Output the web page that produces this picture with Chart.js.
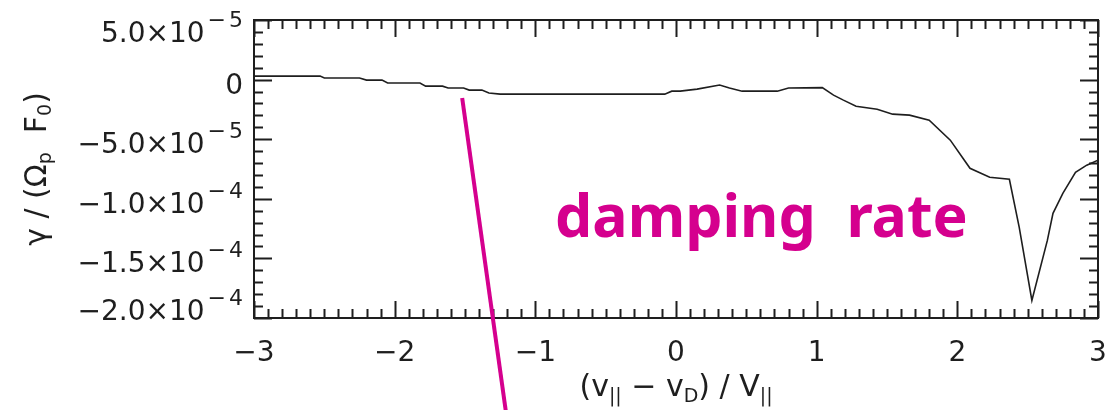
<!DOCTYPE html>
<html>
<head>
<meta charset="utf-8">
<script src="https://cdn.jsdelivr.net/npm/chart.js@4/dist/chart.umd.min.js"></script>
<style>
  html, body { margin: 0; padding: 0; background: #fff; }
  #wrap { width: 1116px; height: 410px; }
</style>
</head>
<body>
<div id="wrap"><canvas id="rate" width="1116" height="410"></canvas></div>
<script>
// normalised drift velocity samples
const velocity = [-3.00, -2.53, -2.50, -2.25, -2.20, -2.09, -2.05, -1.82, -1.78, -1.66,
    -1.62, -1.51, -1.47, -1.38, -1.33, -1.25, -0.08, -0.03, 0.03, 0.15,
    0.31, 0.38, 0.47, 0.72, 0.80, 1.04, 1.12, 1.19, 1.28, 1.43,
    1.54, 1.66, 1.80, 1.95, 2.04, 2.09, 2.23, 2.37, 2.44, 2.53,
    2.64, 2.68, 2.75, 2.84, 2.92, 3.00];

// damping rate, in units of 1e-5
const gammaE5 = [0.29, 0.29, 0.13, 0.13, -0.04, -0.04, -0.29, -0.29, -0.55, -0.55,
    -0.71, -0.71, -0.88, -0.88, -1.13, -1.22, -1.22, -0.97, -0.97, -0.80,
    -0.46, -0.71, -0.97, -0.97, -0.71, -0.67, -1.30, -1.72, -2.23, -2.48,
    -2.90, -2.98, -3.40, -5.08, -6.60, -7.44, -8.19, -8.36, -12.39, -18.53,
    -13.49, -11.22, -9.54, -7.77, -7.18, -6.76];

const xTicks = [-3, -2, -1, 0, 1, 2, 3];
const xTickLabels = ['\u22123', '\u22122', '\u22121', '0', '1', '2', '3'];
const yTicks = [5e-5, 0, -5e-5, -1e-4, -1.5e-4, -2e-4];
const yTickMantissa = ['5.0\u00d710', '0', '\u22125.0\u00d710', '\u22121.0\u00d710', '\u22121.5\u00d710', '\u22122.0\u00d710'];
const yTickExponent = ['\u22125', '', '\u22125', '\u22124', '\u22124', '\u22124'];

// pointer annotation (data coordinates)
const pointerFrom = { x: -1.52, y: -1.55e-5 };
const pointerTo = { x: -1.21, y: -2.78e-4 };
const noteAt = { x: -0.86, y: -1.32e-4 };

const FONT = '"DejaVu Sans", sans-serif';
const INK = '#1e1e1e';

// draws a run of text pieces, some of them sub/superscripted
function drawRich(ctx, parts, x, y, align) {
    const widths = parts.map(p => {
        ctx.font = (p.size || 26) + 'px ' + FONT;
        return ctx.measureText(p.t).width + (p.gap || 0);
    });
    const total = widths.reduce((s, w) => s + w, 0);
    let cx = align === 'right' ? x - total : align === 'center' ? x - total / 2 : x;
    parts.forEach((p, i) => {
        ctx.font = (p.size || 26) + 'px ' + FONT;
        ctx.fillText(p.t, cx, y + (p.dy || 0));
        cx += widths[i];
    });
}

const idlFrame = {
    id: 'idlFrame',
    afterDraw(chart) {
        const { ctx, chartArea: a, scales: { x, y } } = chart;
        ctx.save();
        ctx.strokeStyle = INK;
        ctx.fillStyle = INK;
        ctx.lineWidth = 2;
        ctx.strokeRect(a.left, a.top, a.right - a.left, a.bottom - a.top);

        ctx.beginPath();
        // x minor + major ticks, bottom and top
        for (let i = -30; i <= 30; i++) {
            const px = Math.round(x.getPixelForValue(i / 10)) + 0.5;
            const len = i % 10 === 0 ? 17 : 9;
            ctx.moveTo(px, a.bottom); ctx.lineTo(px, a.bottom - len);
            ctx.moveTo(px, a.top); ctx.lineTo(px, a.top + len);
        }
        // y minor + major ticks, left and right
        for (let j = -20; j <= 5; j++) {
            const py = Math.round(y.getPixelForValue(j * 1e-5)) + 0.5;
            const len = j % 5 === 0 ? 18 : 9;
            ctx.moveTo(a.left, py); ctx.lineTo(a.left + len, py);
            ctx.moveTo(a.right, py); ctx.lineTo(a.right - len, py);
        }
        ctx.stroke();

        // x tick labels
        ctx.textAlign = 'center';
        ctx.textBaseline = 'alphabetic';
        ctx.font = '28px ' + FONT;
        xTicks.forEach((v, i) => {
            ctx.fillText(xTickLabels[i], x.getPixelForValue(v), 361);
        });

        // y tick labels: mantissa with raised exponent
        ctx.textAlign = 'left';
        yTicks.forEach((v, i) => {
            let cy = y.getPixelForValue(v) + 4;
            cy = Math.min(Math.max(cy, a.top + 12), a.bottom - 8);
            const parts = [{ t: yTickMantissa[i], size: 28, gap: 3 }];
            const exp = yTickExponent[i];
            if (exp) {
                parts.push({ t: exp[0], size: 22, dy: -15, gap: 3 });
                parts.push({ t: exp.slice(1), size: 22, dy: -15 });
            } else {
                parts[0].gap = 0;
            }
            drawRich(ctx, parts, 243, cy + 10, 'right');
        });

        // axis titles
        drawRich(ctx, [
            { t: '(v', size: 30 }, { t: '||', size: 19, dy: 6 }, { t: ' \u2212 v', size: 30 },
            { t: 'D', size: 19, dy: 6 }, { t: ') / V', size: 30 }, { t: '||', size: 19, dy: 6 }
        ], (a.left + a.right) / 2, 396, 'center');

        ctx.save();
        ctx.translate(46, (a.top + a.bottom) / 2);
        ctx.rotate(-Math.PI / 2);
        drawRich(ctx, [
            { t: '\u03b3 / (\u03a9', size: 30 }, { t: 'p', size: 19, dy: 5 },
            { t: '  F', size: 30 }, { t: '0', size: 19, dy: 5 }, { t: ')', size: 30 }
        ], 0, 0, 'center');
        ctx.restore();

        // magenta pointer and note
        ctx.strokeStyle = '#d5008e';
        ctx.lineWidth = 4;
        ctx.beginPath();
        ctx.moveTo(x.getPixelForValue(pointerFrom.x), y.getPixelForValue(pointerFrom.y));
        ctx.lineTo(x.getPixelForValue(pointerTo.x), y.getPixelForValue(pointerTo.y));
        ctx.stroke();

        ctx.fillStyle = '#d5008e';
        ctx.font = 'bold 59px "Noto Sans", sans-serif';
        ctx.textAlign = 'left';
        ctx.fillText('damping  rate', x.getPixelForValue(noteAt.x), y.getPixelForValue(noteAt.y));
        ctx.restore();
    }
};

const points = velocity.map((v, i) => ({ x: v, y: gammaE5[i] * 1e-5 }));

new Chart(document.getElementById('rate'), {
    type: 'line',
    data: {
        datasets: [{
            data: points,
            borderColor: INK,
            borderWidth: 1.6,
            pointRadius: 0,
            tension: 0,
            fill: false
        }]
    },
    options: {
        responsive: false,
        animation: false,
        layout: { padding: { left: 254, right: 18, top: 20, bottom: 92 } },
        plugins: { legend: { display: false }, tooltip: { enabled: false } },
        scales: {
            x: { type: 'linear', min: -3, max: 3, display: false },
            y: { type: 'linear', min: -2e-4, max: 5e-5, display: false }
        }
    },
    plugins: [idlFrame]
});
</script>
</body>
</html>
